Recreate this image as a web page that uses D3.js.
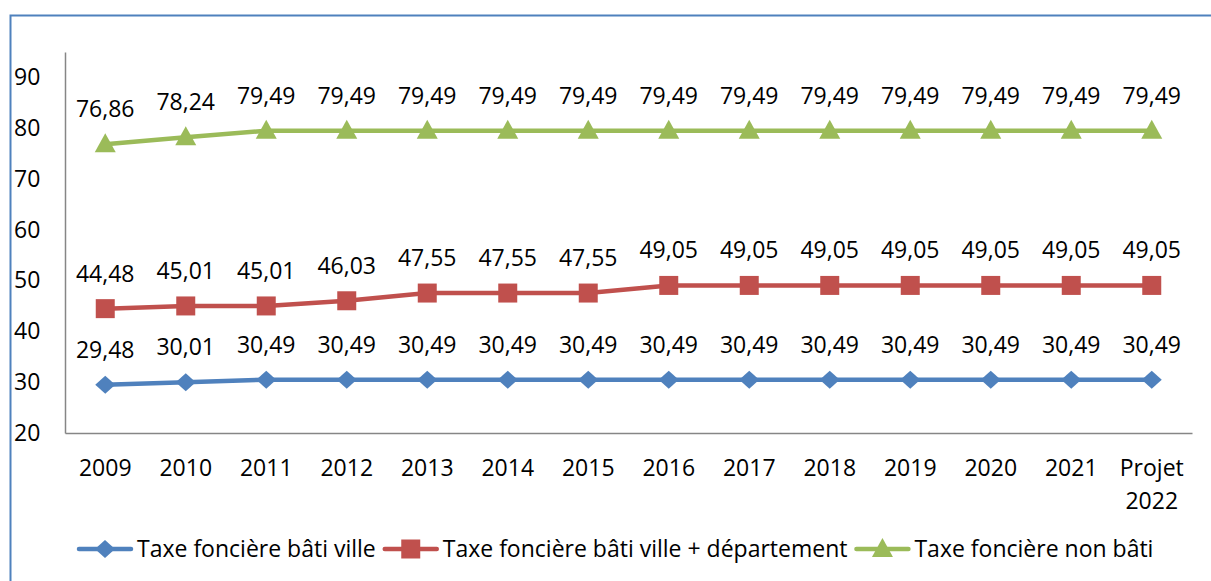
<!DOCTYPE html>
<html>
<head>
<meta charset="utf-8">
<script src="https://cdn.jsdelivr.net/npm/d3@7"></script>
<style>
	body { margin: 0; background: #fff; }
	text { font-family: "Open Sans", sans-serif; fill: #000; }
</style>
</head>
<body>
<script>
	"use strict";

	var years = ["2009", "2010", "2011", "2012", "2013", "2014", "2015", "2016", "2017", "2018", "2019", "2020", "2021", "Projet 2022"];
	var batiVille = [29.48, 30.01, 30.49, 30.49, 30.49, 30.49, 30.49, 30.49, 30.49, 30.49, 30.49, 30.49, 30.49, 30.49];
	var batiVilleDep = [44.48, 45.01, 45.01, 46.03, 47.55, 47.55, 47.55, 49.05, 49.05, 49.05, 49.05, 49.05, 49.05, 49.05];
	var nonBati = [76.86, 78.24, 79.49, 79.49, 79.49, 79.49, 79.49, 79.49, 79.49, 79.49, 79.49, 79.49, 79.49, 79.49];
	var yTicks = [20, 30, 40, 50, 60, 70, 80, 90];

	var series = [
		{ name: "Taxe foncière bâti ville", values: batiVille, color: "#4F81BD", marker: "diamond" },
		{ name: "Taxe foncière bâti ville + département", values: batiVilleDep, color: "#C0504D", marker: "square" },
		{ name: "Taxe foncière non bâti", values: nonBati, color: "#9BBB59", marker: "triangle" }
	];

	var width = 1211, height = 581;
	var svg = d3.select("body").append("svg")
		.attr("width", width)
		.attr("height", height);

	// chart frame
	svg.append("rect")
		.attr("x", 10.5).attr("y", 15.5)
		.attr("width", 1400).attr("height", 800)
		.attr("fill", "none")
		.attr("stroke", "#4F81BD")
		.attr("stroke-width", 2);

	var x = d3.scaleBand().domain(years).range([65, 1192]);
	var y = d3.scaleLinear().domain([20, 95]).range([433, 52]);

	var fmt = function(v) { return d3.format(".2f")(v).replace(".", ","); };

	// axes
	var yAxis = svg.append("g")
		.attr("transform", "translate(65,0)")
		.call(d3.axisLeft(y).tickValues(yTicks).tickSize(0));
	yAxis.select(".domain").attr("stroke", "#868686").attr("stroke-width", 1.5);
	yAxis.selectAll("text")
		.attr("text-anchor", "start")
		.attr("x", -51)
		.style("font-size", "23px")
		.style("font-family", "'Open Sans', sans-serif");

	var xAxis = svg.append("g")
		.attr("transform", "translate(0,433)")
		.call(d3.axisBottom(x).tickSize(0).tickFormat(""));
	xAxis.select(".domain").attr("stroke", "#868686").attr("stroke-width", 1.5);

	xAxis.selectAll(".tick").each(function(d) {
		var lines = d.split(" ");
		var t = d3.select(this).append("text")
			.attr("text-anchor", "middle")
			.style("font-size", "23px")
			.style("fill", "#000");
		lines.forEach(function(l, i) {
			t.append("tspan").attr("x", 0).attr("y", 43 + i * 33).text(l);
		});
	});

	function markerPath(type) {
		if (type === "diamond") return "M0,-9L10,0L0,9L-10,0Z";
		if (type === "square") return "M-9.5,-9.5H9.5V9.5H-9.5Z";
		return "M0,-11L10.5,8H-10.5Z";
	}

	var line = d3.line()
		.x(function(d, i) { return x(years[i]) + x.bandwidth() / 2; })
		.y(function(d) { return y(d); });

	series.forEach(function(s) {
		var g = svg.append("g");
		g.append("path")
			.attr("d", line(s.values))
			.attr("fill", "none")
			.attr("stroke", s.color)
			.attr("stroke-width", 4.5)
			.attr("stroke-linejoin", "round");

		g.selectAll(".mk")
			.data(s.values)
			.enter()
			.append("path")
			.attr("transform", function(d, i) {
				return "translate(" + (x(years[i]) + x.bandwidth() / 2) + "," + y(d) + ")";
			})
			.attr("d", markerPath(s.marker))
			.attr("fill", s.color);

		g.selectAll(".lbl")
			.data(s.values)
			.enter()
			.append("text")
			.attr("x", function(d, i) { return x(years[i]) + x.bandwidth() / 2; })
			.attr("y", function(d) { return y(d) - 27; })
			.attr("text-anchor", "middle")
			.style("font-size", "23px")
			.text(fmt);
	});

	// legend
	var legend = svg.append("g").attr("transform", "translate(0,549)");
	var lx = 77;
	series.forEach(function(s) {
		var item = legend.append("g");
		item.append("line")
			.attr("x1", lx + 2).attr("x2", lx + 54)
			.attr("stroke", s.color)
			.attr("stroke-width", 4.5)
			.attr("stroke-linecap", "round");
		item.append("path")
			.attr("transform", "translate(" + (lx + 28) + ",0)")
			.attr("d", markerPath(s.marker))
			.attr("fill", s.color);
		var t = item.append("text")
			.attr("x", lx + 60)
			.attr("y", 8)
			.style("font-size", "23px")
			.text(s.name);
		lx += 60 + t.node().getComputedTextLength() + 7;
	});
</script>
</body>
</html>
